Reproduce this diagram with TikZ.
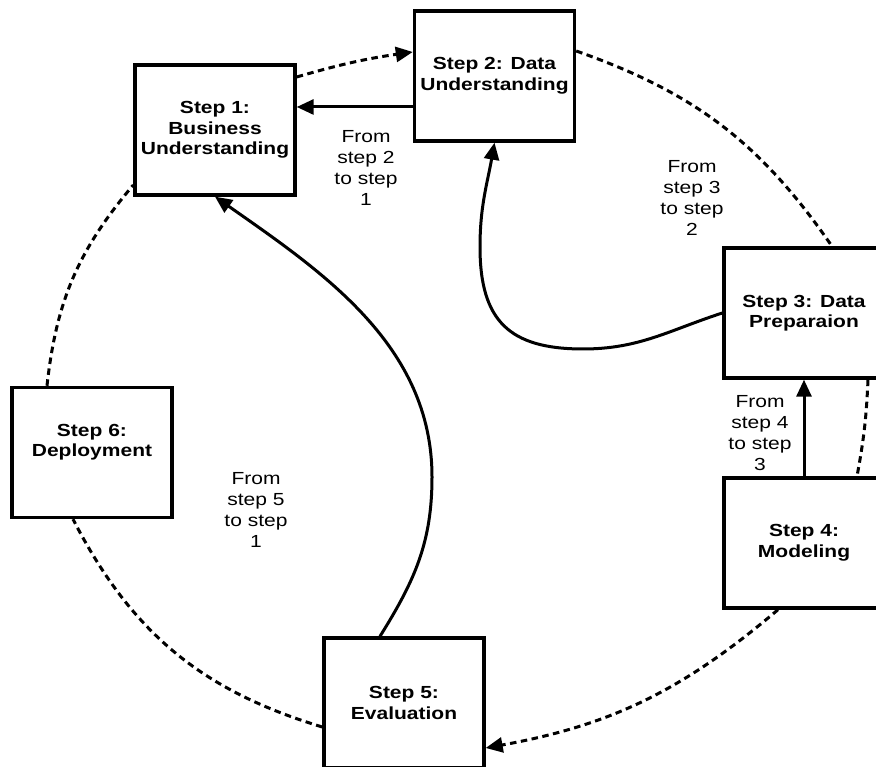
\documentclass[tikz,border=0pt]{standalone}
\usepackage{fontspec}
\newfontfamily\diagfont{Liberation Sans}[FakeStretch=1.2]
\usetikzlibrary{arrows.meta}

\begin{document}
\begin{tikzpicture}[x=1pt,y=1pt,
  stepbox/.style={draw, line width=3.4pt, minimum width=160pt, minimum height=130pt,
    inner sep=0pt, align=center,
    font=\diagfont\bfseries\fontsize{17.5}{20.5}\selectfont},
  steplabel/.style={align=center, inner sep=0pt,
    font=\diagfont\fontsize{17.5}{21}\selectfont},
  solidarrow/.style={line width=3pt, -{Triangle[length=17pt,width=15pt]}},
  ring/.style={line width=3pt, dash pattern=on 6.5pt off 4.5pt},
  ringarrow/.style={ring, -{Triangle[length=17pt,width=15pt]}},
]
\useasboundingbox (0,0) rectangle (876,767);
\clip (0,0) rectangle (876,767);

% the six steps
\node[stepbox] (b1) at (215,637) {Step 1:\\Business\\Understanding};
\node[stepbox] (b2) at (494.5,691) {Step 2: Data\\Understanding};
\node[stepbox] (b3) at (804,454) {Step 3: Data\\Preparaion};
\node[stepbox] (b4) at (804,224) {Step 4:\\Modeling};
\node[stepbox] (b5) at (404,64) {Step 5:\\Evaluation};
\node[stepbox, text depth=24pt] (b6) at (92,314.5) {Step 6:\\Deployment};

% feedback labels
\node[steplabel] (n21) at (366,599) {From\\step 2\\to step\\1};
\node[steplabel] (n32) at (692,569) {From\\step 3\\to step\\2};
\node[steplabel] (n43) at (760,334) {From\\step 4\\to step\\3};
\node[steplabel] (n51) at (256,257) {From\\step 5\\to step\\1};

% feedback arrows
\draw[solidarrow] ([yshift=-31pt]b2.west) -- ([yshift=23pt]b1.east);
\draw[solidarrow] (b4.north) -- (b3.south);
\coordinate (k1) at (583,418);
\coordinate (k2) at (480,520);
\draw[solidarrow] (b3.west) to[out=198,in=0] (k1)
  to[out=180,in=-90,looseness=1.3] (k2) to[out=90,in=-100] (b2.south);
\coordinate (k3) at (432,290);
\draw[solidarrow] ([xshift=-24pt]b5.north) to[out=58,in=-90] (k3)
  to[out=90,in=-35,looseness=0.95] (b1.south);

% dashed process cycle
\draw[ringarrow] ([yshift=53pt]b1.east) to[bend left=4] ([yshift=24pt]b2.west);
\draw[ring] ([yshift=25pt]b2.east) to[bend left=18] ([xshift=28pt]b3.north);
\draw[ring] ([xshift=64pt]b3.south) to[bend left=4] ([xshift=53pt]b4.north);
\draw[ringarrow] ([xshift=-26pt]b4.south) to[bend left=15] ([yshift=-45pt]b5.east);
\draw[ring] ([yshift=-24pt]b5.west) to[bend left=23] ([xshift=-19pt]b6.south);
\draw[ring] ([xshift=-45pt]b6.north) to[bend left=17] ([yshift=-55pt]b1.west);
\end{tikzpicture}
\end{document}
